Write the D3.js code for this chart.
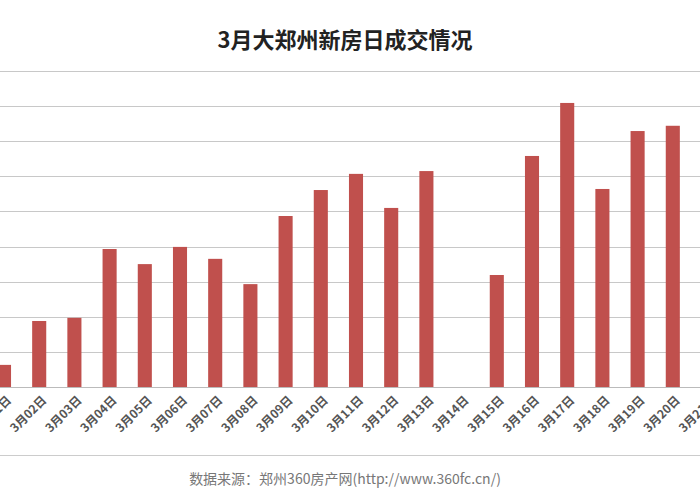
<!DOCTYPE html>
<html><head><meta charset="utf-8">
<script src="https://cdn.jsdelivr.net/npm/d3@7"></script>
<style>body{margin:0;background:#fff}</style></head>
<body><svg id="c" width="700" height="500"></svg>
<script>
const categories = ["3月01日","3月02日","3月03日","3月04日","3月05日","3月06日","3月07日","3月08日","3月09日","3月10日","3月11日","3月12日","3月13日","3月14日","3月15日","3月16日","3月17日","3月18日","3月19日","3月20日","3月21日"];
const values = [0.63,1.88,1.97,3.93,3.5,3.99,3.65,2.93,4.87,5.61,6.07,5.1,6.15,0,3.19,6.58,8.09,5.64,7.29,7.44,6.8];
const gridTicks = [0,1,2,3,4,5,6,7,8,9];
const title = "3月大郑州新房日成交情况";
const source = "数据来源：郑州360房产网(http://www.360fc.cn/)";

const svg = d3.select("#c");
const y = d3.scaleLinear().domain([0,9]).range([387,71]);
const x = d3.scaleBand().domain(categories).range([-13.6,725.6]).paddingInner(0.6).paddingOuter(0.3);

svg.append("g").selectAll("line").data(gridTicks).join("line")
  .attr("x1",0).attr("x2",700).attr("y1",d=>Math.round(y(d))+0.5).attr("y2",d=>Math.round(y(d))+0.5)
  .attr("stroke",d=>d===0?"#bbb":"#c8c8c8").attr("stroke-width",1.2);

svg.append("g").selectAll("rect").data(values).join("rect")
  .attr("x",(d,i)=>x(categories[i])).attr("width",x.bandwidth())
  .attr("y",d=>y(d)).attr("height",d=>y(0)-y(d)).attr("fill","#c0504d");

svg.append("g").selectAll("text").data(categories).join("text")
  .attr("transform",d=>`translate(${x(d)+x.bandwidth()/2+8},${401}) rotate(-45)`)
  .attr("text-anchor","end").attr("font-family","Noto Sans CJK SC, sans-serif")
  .attr("font-size",12).attr("font-weight","bold").attr("fill","#555").text(d=>d);

svg.append("line").attr("x1",0).attr("x2",700).attr("y1",455.5).attr("y2",455.5).attr("stroke","#ccc");

svg.append("text").attr("x",345).attr("y",48).attr("text-anchor","middle")
  .attr("font-family","Noto Sans CJK SC, sans-serif").attr("font-size",22).attr("font-weight","bold")
  .attr("fill","#222").text(title);
svg.append("text").attr("x",345).attr("y",484).attr("text-anchor","middle")
  .attr("font-family","Noto Sans CJK SC, sans-serif").attr("font-size",14)
  .attr("fill","#777").text(source);
</script></body></html>
